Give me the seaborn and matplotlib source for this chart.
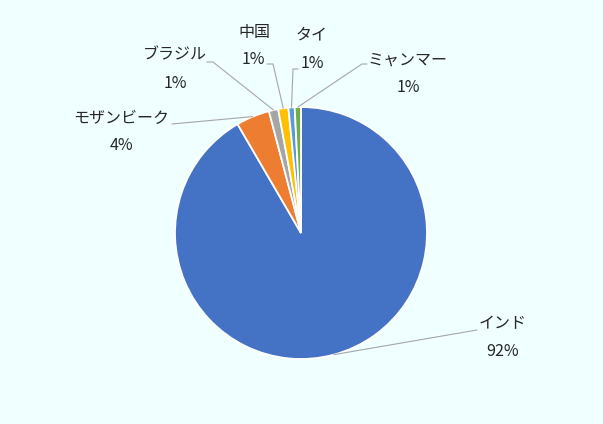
import numpy as np
import matplotlib.pyplot as plt
import seaborn as sns

sns.set_theme(style="white")
plt.rcParams['font.family'] = ['Noto Sans CJK JP', 'DejaVu Sans']

# data (share, %), drawn clockwise from 12 o'clock
countries = ['インド', 'モザンビーク', 'ブラジル', '中国', 'タイ', 'ミャンマー']
shares = [91.6, 4.3, 1.2, 1.3, 0.8, 0.8]
pct_labels = ['92%', '4%', '1%', '1%', '1%', '1%']
colors = ['#4472C4', '#ED7D31', '#A5A5A5', '#FFC000', '#5B9BD5', '#70AD47']

W, H = 603, 424
bg = '#F0FFFF'
txt = '#262626'
line_c = '#A6A6A6'

fig = plt.figure(figsize=(W / 100, H / 100), dpi=100)
fig.patch.set_facecolor(bg)
ax = fig.add_axes([0, 0, 1, 1])
ax.set_facecolor(bg)

def fy(y):
    # pixel row (from top) -> data y
    return H - y

cx, cy, r = 301, fy(233), 126
wedges, _ = ax.pie(shares, colors=colors, startangle=90, counterclock=False,
                   center=(cx, cy), radius=r,
                   wedgeprops=dict(edgecolor='white', linewidth=1.3))

ax.set_xlim(0, W)
ax.set_ylim(0, H)
ax.set_aspect('equal')
ax.axis('off')

# label layout in pixels: name centre, pct centre, leader elbow, leader end
layout = [
    ((503, 324), (503, 352), None, (477, 330)),
    ((121, 118), (121, 146), None, (172, 124)),
    ((175, 55), (175, 83), (213, 62), (207, 62)),
    ((254, 32), (253, 60), (273, 64), (267, 64)),
    ((312, 35), (312, 63), (293, 69), (298, 69)),
    ((408, 60), (408, 87), (362, 64), (367, 64)),
]

for w, name, pct, (nxy, pxy, elbow, end) in zip(wedges, countries, pct_labels, layout):
    mid = np.deg2rad((w.theta1 + w.theta2) / 2)
    sx, sy = cx + r * np.cos(mid), cy + r * np.sin(mid)
    pts = [(sx, sy)]
    if elbow is not None:
        pts.append((elbow[0], fy(elbow[1])))
    pts.append((end[0], fy(end[1])))
    xs, ys = zip(*pts)
    ax.plot(xs, ys, color=line_c, lw=0.8, zorder=1)
    ax.text(nxy[0], fy(nxy[1]), name, ha='center', va='center', fontsize=11.5, color=txt)
    ax.text(pxy[0], fy(pxy[1]), pct, ha='center', va='center', fontsize=11.5, color=txt)

plt.savefig('out.png', dpi=100, facecolor=bg)
